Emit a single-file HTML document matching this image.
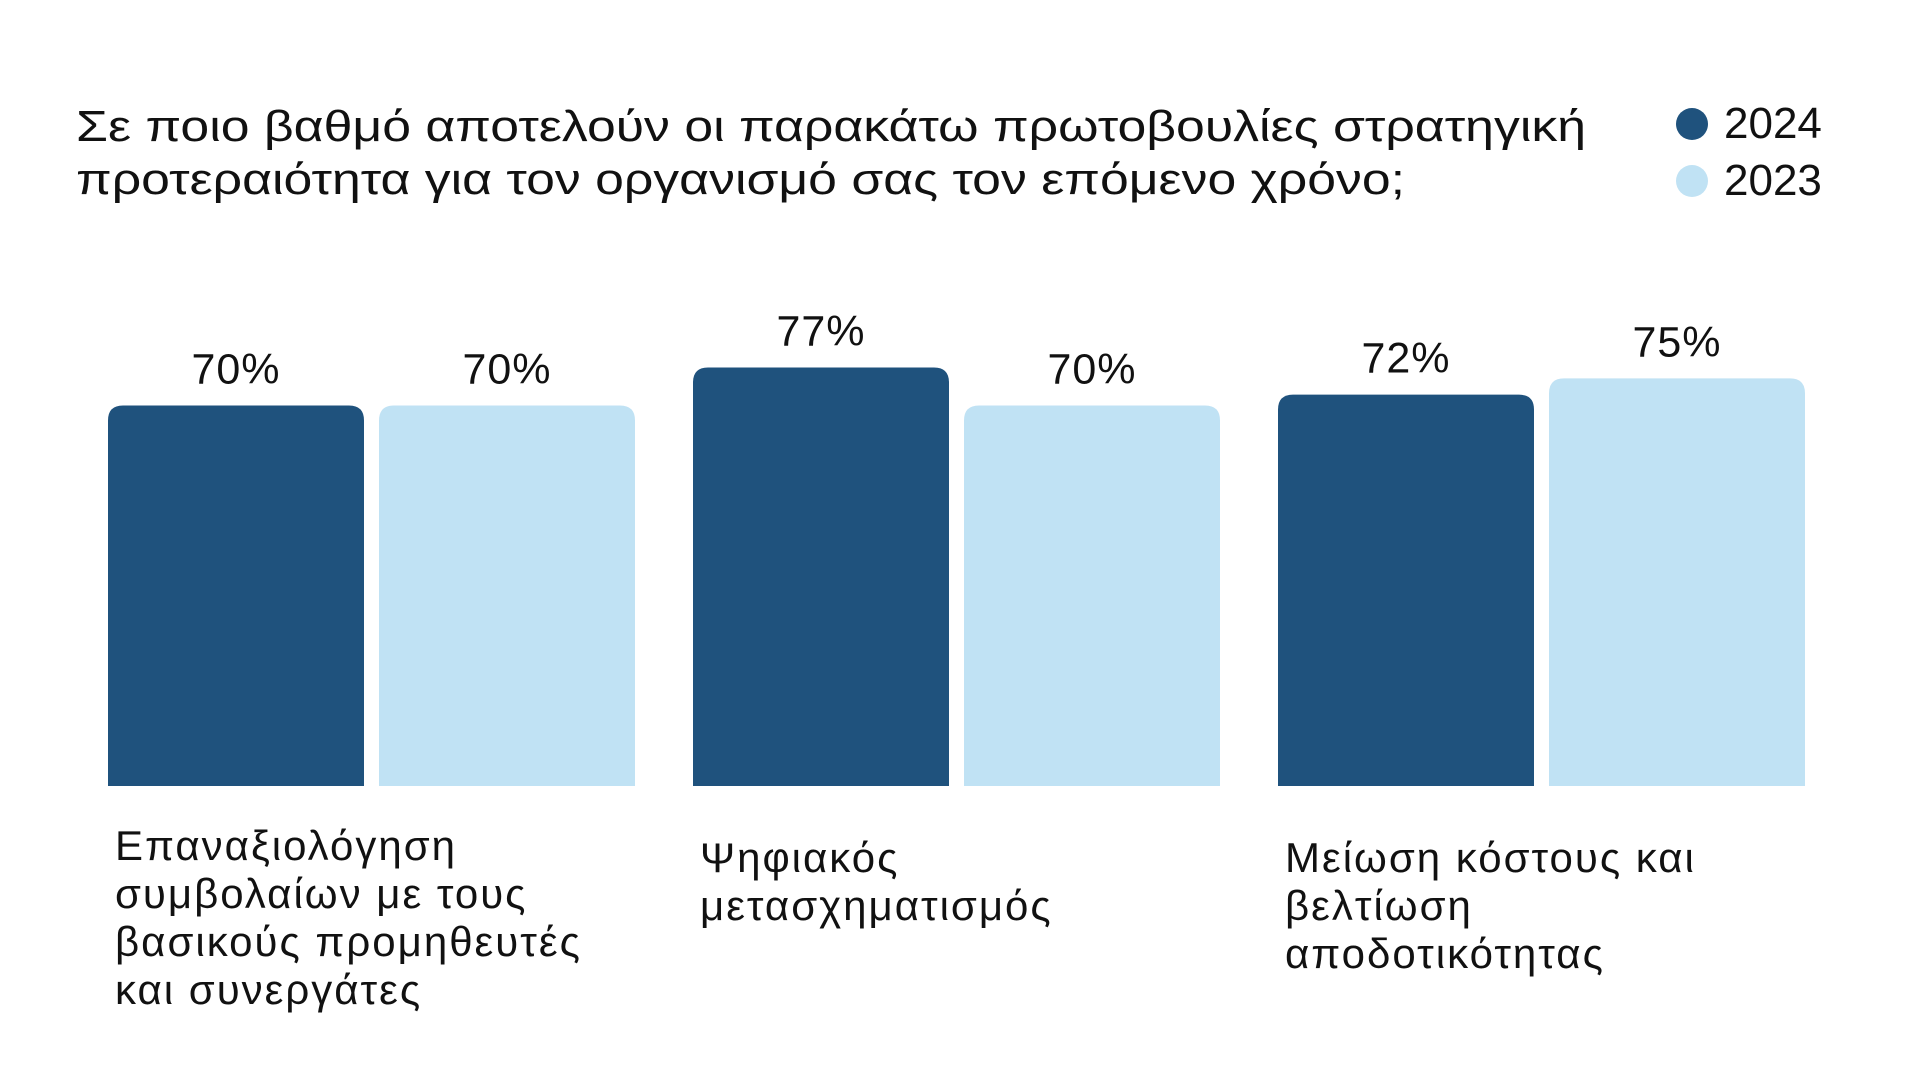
<!DOCTYPE html>
<html><head><meta charset="utf-8"><style>
html,body{margin:0;padding:0;background:#fff;}
svg{display:block;font-family:"Liberation Sans","DejaVu Sans",sans-serif;}
</style></head><body>
<svg id="chart" width="1920" height="1080" viewBox="0 0 1920 1080">
<g font-size="44" fill="#111">
<text x="76" y="141" textLength="1510" lengthAdjust="spacingAndGlyphs">Σε ποιο βαθμό αποτελούν οι παρακάτω πρωτοβουλίες στρατηγική</text>
<text x="76" y="194" textLength="1329" lengthAdjust="spacingAndGlyphs">προτεραιότητα για τον οργανισμό σας τον επόμενο χρόνο;</text>
</g>
<g font-size="44" fill="#111">
<g><circle cx="1692" cy="124" r="16" fill="#1f527d"/><text x="1724" y="138">2024</text></g>
<g><circle cx="1692" cy="181" r="16" fill="#c0e2f4"/><text x="1724" y="195">2023</text></g>
</g>
<g id="bars"></g>
<g id="cats"></g>
</svg>
<script>
const categories=[["Επαναξιολόγηση","συμβολαίων με τους","βασικούς προμηθευτές","και συνεργάτες"],["Ψηφιακός","μετασχηματισμός"],["Μείωση κόστους και","βελτίωση","αποδοτικότητας"]];
const values2024=[70,77,72];
const values2023=[70,70,75];
const series=[{name:"2024",vals:values2024,color:"#1f527d"},{name:"2023",vals:values2023,color:"#c0e2f4"}];
const NS="http://www.w3.org/2000/svg";
const base=786, pxPer=5.435, g0=108, gStep=585, bw=256, pitch=271, r=15;
function yScale(v){return base-v*pxPer;}
function xPos(c,s){return g0+c*gStep+s*pitch;}
const bars=document.getElementById('bars');
series.forEach((s,si)=>{
  s.vals.forEach((v,ci)=>{
    const x=xPos(ci,si), y=yScale(v);
    const p=document.createElementNS(NS,'path');
    p.setAttribute('d',`M${x},${base}V${y+r}Q${x},${y} ${x+r},${y}H${x+bw-r}Q${x+bw},${y} ${x+bw},${y+r}V${base}Z`);
    p.setAttribute('fill',s.color);
    
    
    bars.appendChild(p);
    const t=document.createElementNS(NS,'text');
    t.setAttribute('x',x+bw/2);t.setAttribute('y',y-22);
    t.setAttribute('text-anchor','middle');t.setAttribute('font-size','43');t.setAttribute('fill','#111');
    t.setAttribute('letter-spacing','1');
    t.textContent=v+'%';
    
    
    bars.appendChild(t);
  });
});
const cats=document.getElementById('cats');
const catY=[860,872,872];
categories.forEach((lines,ci)=>{
  const t=document.createElementNS(NS,'text');
  t.setAttribute('font-size','42');t.setAttribute('fill','#111');
  t.setAttribute('letter-spacing','2');
  
  
  lines.forEach((l,i)=>{
    const ts=document.createElementNS(NS,'tspan');
    ts.setAttribute('x',xPos(ci,0)+7);ts.setAttribute('y',catY[ci]+i*48);
    ts.textContent=l;t.appendChild(ts);
  });
  cats.appendChild(t);
});
</script>
</body></html>
